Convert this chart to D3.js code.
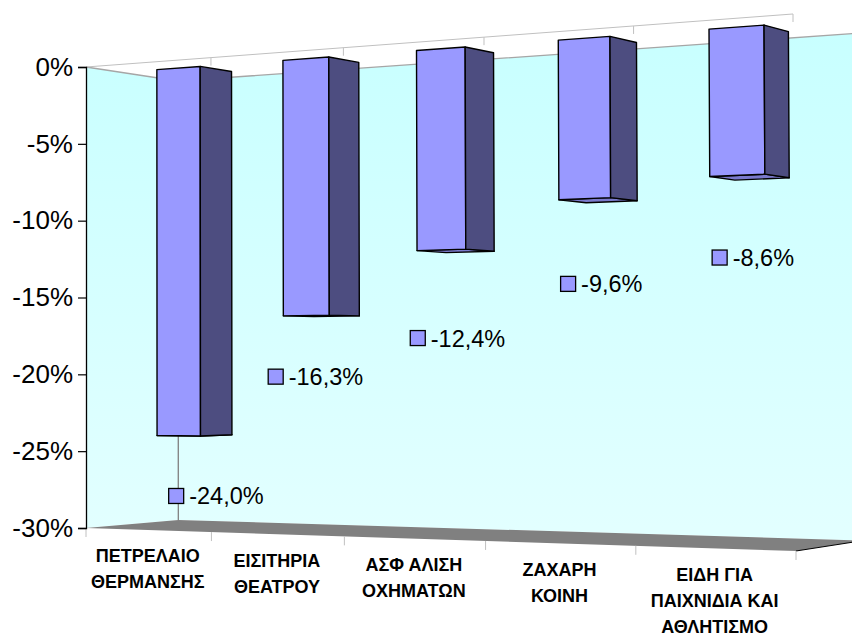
<!DOCTYPE html>
<html>
<head>
<meta charset="utf-8">
<script src="https://cdn.jsdelivr.net/npm/d3@7"></script>
<style>
  html, body { margin: 0; padding: 0; background: #fff; }
  svg { display: block; }
  text { font-family: "Liberation Sans", Arial, sans-serif; fill: #000; }
</style>
</head>
<body>
<div id="chart"></div>
<script>
const width = 852;
const height = 637;

// ! data
const categories = [
  ["ΠΕΤΡΕΛΑΙΟ", "ΘΕΡΜΑΝΣΗΣ"],
  ["ΕΙΣΙΤΗΡΙΑ", "ΘΕΑΤΡΟΥ"],
  ["ΑΣΦ ΑΛΙΣΗ", "ΟΧΗΜΑΤΩΝ"],
  ["ΖΑΧΑΡΗ", "ΚΟΙΝΗ"],
  ["ΕΙΔΗ ΓΙΑ", "ΠΑΙΧΝΙΔΙΑ ΚΑΙ", "ΑΘΛΗΤΙΣΜΟ"],
];
const values = [-24.0, -16.3, -12.4, -9.6, -8.6];
const yTicks = [0, -5, -10, -15, -20, -25, -30];

// hand placed value labels in the original, offset from the bar's end
const labelOffsets = [
  [-2, 61],
  [-30, 62],
  [-23, 89],
  [-16, 86],
  [-17, 83],
];

// ! scales: s = across the chart, u = down the value axis, z = into the wall
const s = d3
  .scaleBand()
  .domain(d3.range(categories.length))
  .range([0, 1])
  .paddingInner(0.65)
  .paddingOuter(0.325);
const u = d3.scaleLinear().domain([0, -30]).range([0, 1]);
const yAxisScale = d3.scaleLinear().domain([0, -30]).range([67, 528]);
const barFront = 0.325;
const barBack = 0.675;

// perspective of the 3D plot box, fitted on its corners
function project(a, b, c) {
  const w = 1 - 0.14137 * a - 0.003628 * b + 0.05 * c;
  return [
    (594.9 * a - 0.312 * b + 100.9 * c + 86) / w,
    (-54.98 * a + 459.08 * b + 18.05 * c + 67) / w,
  ];
}
const poly = (pts) => pts.map((p) => p.join(",")).join(" ");

const svg = d3
  .select("#chart")
  .append("svg")
  .attr("width", width)
  .attr("height", height);

const gradient = svg
  .append("defs")
  .append("linearGradient")
  .attr("id", "wall")
  .attr("gradientUnits", "userSpaceOnUse")
  .attr("x1", 0)
  .attr("x2", 0)
  .attr("y1", 33)
  .attr("y2", 528);
gradient.append("stop").attr("offset", 0).attr("stop-color", "#c8ffff");
gradient.append("stop").attr("offset", 1).attr("stop-color", "#e2ffff");

// ! walls
svg
  .append("polygon")
  .attr("points", poly([project(0, 0, 0), project(0, 0, 1), project(0, 1, 1), project(0, 1, 0)]))
  .attr("fill", "url(#wall)");
svg
  .append("polygon")
  .attr("points", poly([project(0, 0, 1), project(1, 0, 1), project(1, 1, 1), project(0, 1, 1)]))
  .attr("fill", "url(#wall)");

// ! floor
svg
  .append("polygon")
  .attr("points", poly([project(0, 1, 0), project(0, 1, 1), project(1, 1, 1), project(1, 1, 0)]))
  .attr("fill", "#808080");
svg
  .append("polyline")
  .attr("points", poly([project(1, 1, 0), project(1, 1, 1)]))
  .attr("fill", "none")
  .attr("stroke", "#000")
  .attr("stroke-width", 1);

// wall edges
svg
  .append("polyline")
  .attr("points", poly([project(0, 0, 0), project(0, 0, 1), project(1, 0, 1)]))
  .attr("fill", "none")
  .attr("stroke", "#a6a6a6")
  .attr("stroke-width", 1.3);
svg
  .append("polyline")
  .attr("points", poly([project(0, 0, 1), project(0, 1, 1)]))
  .attr("fill", "none")
  .attr("stroke", "#808080")
  .attr("stroke-width", 1.3);

// ! front frame with its tick marks, top and bottom
const frame = svg.append("g").attr("stroke", "#c0c0c0").attr("fill", "none");
frame.append("polyline").attr("points", poly([project(0, 0, 0), project(1, 0, 0)]));
d3.range(1, categories.length + 1).forEach(function (i) {
  const top = project(i / categories.length, 0, 0);
  frame
    .append("line")
    .attr("x1", top[0])
    .attr("y1", top[1])
    .attr("x2", top[0])
    .attr("y2", top[1] + 8);
});
d3.range(0, categories.length + 1).forEach(function (i) {
  const bottom = project(i / categories.length, 1, 0);
  frame
    .append("line")
    .attr("x1", bottom[0])
    .attr("y1", bottom[1])
    .attr("x2", bottom[0])
    .attr("y2", bottom[1] + 9);
});

// ! bars
const bars = svg
  .append("g")
  .attr("transform", "translate(0.5,0.8)")
  .selectAll("g")
  .data(values)
  .enter()
  .append("g")
  .attr("stroke", "#000")
  .attr("stroke-width", 1.4)
  .attr("stroke-linejoin", "round");

const left = (i) => s(i);
const right = (i) => s(i) + s.bandwidth();

// underside first, it only shows where the front does not cover it
bars
  .append("polygon")
  .attr("fill", "#7a7acc")
  .attr("points", (d, i) =>
    poly([
      project(left(i), u(d), barFront),
      project(right(i), u(d), barFront),
      project(right(i), u(d), barBack),
      project(left(i), u(d), barBack),
    ])
  );
bars
  .append("polygon")
  .attr("fill", "#9999ff")
  .attr("points", (d, i) =>
    poly([
      project(left(i), 0, barFront),
      project(right(i), 0, barFront),
      project(right(i), u(d), barFront),
      project(left(i), u(d), barFront),
    ])
  );
bars
  .append("polygon")
  .attr("fill", "#4d4d80")
  .attr("points", (d, i) =>
    poly([
      project(right(i), 0, barFront),
      project(right(i), 0, barBack),
      project(right(i), u(d), barBack),
      project(right(i), u(d), barFront),
    ])
  );

// ! value labels with legend key
const labels = svg
  .append("g")
  .selectAll("g")
  .data(values)
  .enter()
  .append("g")
  .attr("transform", function (d, i) {
    const end = project(s(i) + s.bandwidth() / 2, u(d), barFront);
    return `translate(${end[0] + labelOffsets[i][0]},${end[1] + labelOffsets[i][1]})`;
  });
labels
  .append("rect")
  .attr("x", -7.5)
  .attr("y", -7.5)
  .attr("width", 15)
  .attr("height", 15)
  .attr("fill", "#9999ff")
  .attr("stroke", "#000")
  .attr("stroke-width", 1.3);
labels
  .append("text")
  .attr("x", 13)
  .attr("y", 8.5)
  .attr("font-size", 23.5)
  .text((d) => d.toFixed(1).replace(".", ",") + "%");

// ! value axis
const yAxis = svg
  .append("g")
  .attr("transform", "translate(86,0)")
  .call(
    d3
      .axisLeft(yAxisScale)
      .tickValues(yTicks)
      .tickSize(8)
      .tickPadding(5)
      .tickFormat((d) => d + "%")
  );
yAxis.select(".domain").attr("stroke", "#000").attr("stroke-width", 1.3);
yAxis.selectAll("line").attr("stroke", "#000").attr("stroke-width", 1.2);
yAxis
  .selectAll("text")
  .style("font-family", '"Liberation Sans", Arial, sans-serif')
  .attr("font-size", 26);

// ! category labels
const catLabels = svg
  .append("g")
  .selectAll("text")
  .data(categories)
  .enter()
  .append("text")
  .attr("text-anchor", "middle")
  .attr("font-size", 18)
  .attr("font-weight", "bold")
  .attr("transform", function (d, i) {
    const p = project(s(i) + s.bandwidth() / 2, 1, 0);
    return `translate(${p[0]},${p[1] + 32.5})`;
  });
catLabels
  .selectAll("tspan")
  .data((d) => d)
  .enter()
  .append("tspan")
  .attr("x", 0)
  .attr("dy", (d, i) => (i === 0 ? 0 : 26))
  .text((d) => d);
</script>
</body>
</html>
